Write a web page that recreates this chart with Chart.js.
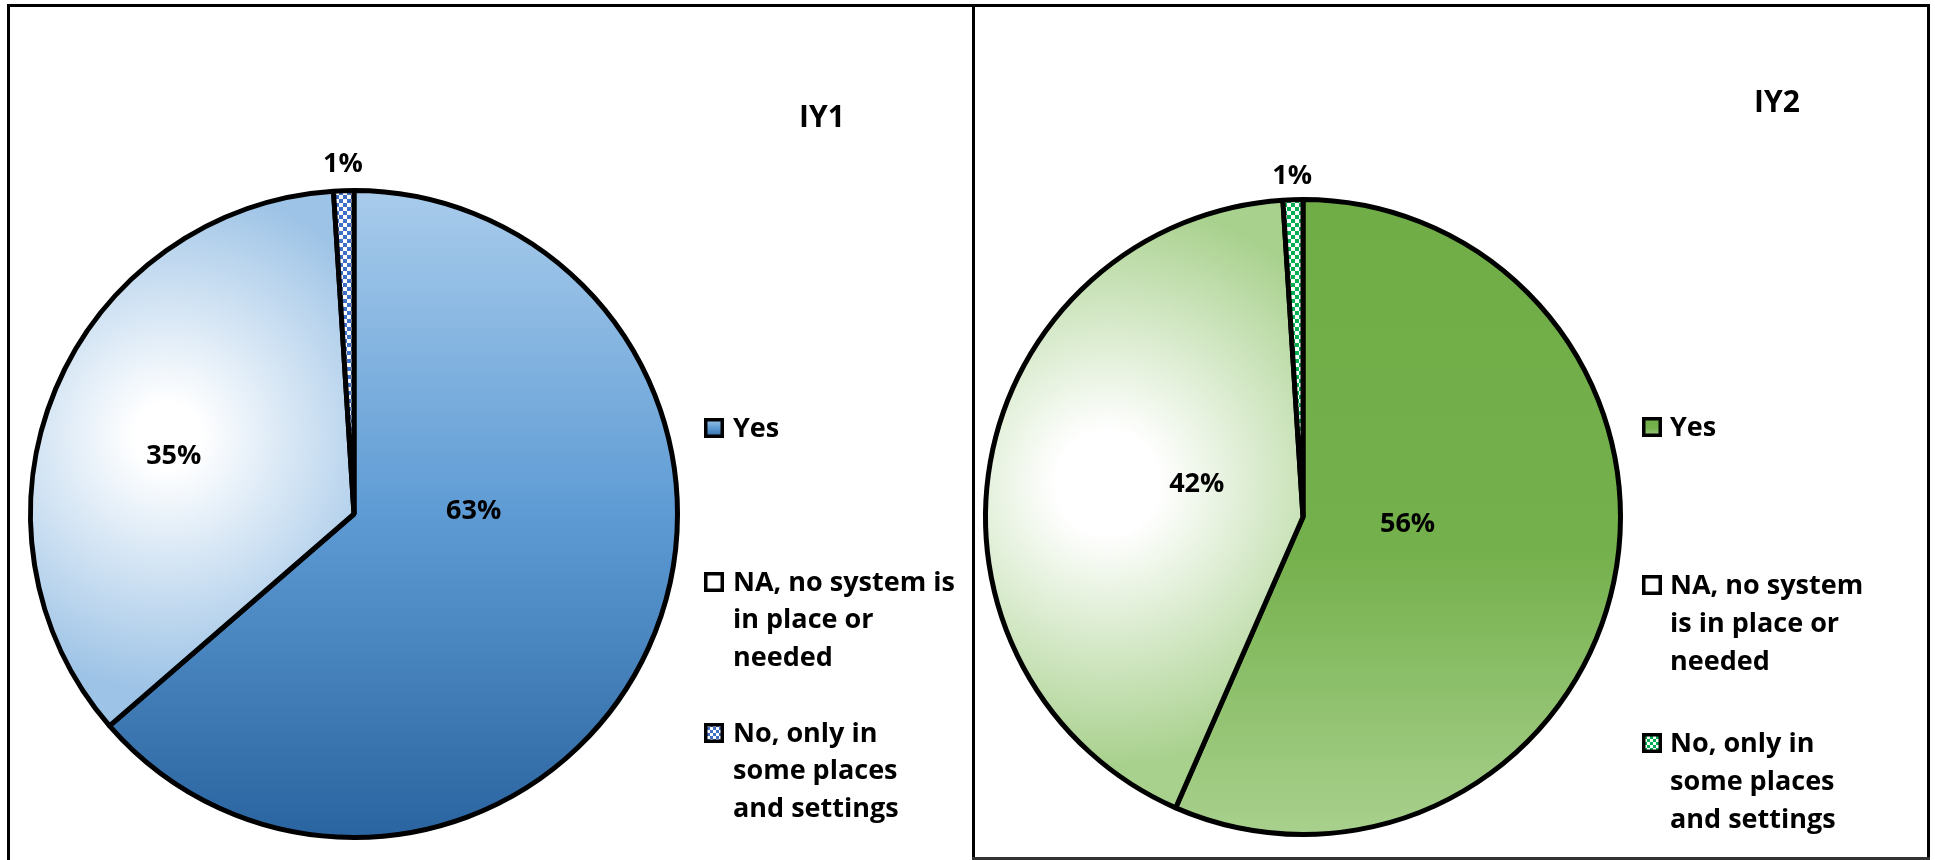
<!DOCTYPE html>
<html>
<head>
<meta charset="utf-8">
<title>IY1 / IY2</title>
<script src="https://cdn.jsdelivr.net/npm/chart.js@4.4.1/dist/chart.umd.min.js"></script>
<style>
  html, body { margin: 0; padding: 0; background: #fff; }
  #page { position: relative; width: 1935px; height: 860px; overflow: hidden; background: #fff; }
  .panel { position: absolute; }
  .rule { position: absolute; background: #000; }
</style>
</head>
<body>
<div id="page">
  <div class="panel" style="left:11px; top:7px; width:961px; height:850px;"><canvas id="chartIY1"></canvas></div>
  <div class="panel" style="left:975px; top:7px; width:952px; height:850px;"><canvas id="chartIY2"></canvas></div>
  <!-- table frame -->
  <div class="rule" style="left:7px; top:4px; width:1923px; height:3px;"></div>
  <div class="rule" style="left:7px; top:4px; width:3px; height:856px;"></div>
  <div class="rule" style="left:972px; top:4px; width:3px; height:856px;"></div>
  <div class="rule" style="left:1927px; top:4px; width:3px; height:856px;"></div>
  <div class="rule" style="left:972px; top:857px; width:958px; height:3px; background:#333;"></div>
</div>
<script>
// ---- data ----
const categories = ['Yes', 'NA, no system is in place or needed', 'No, only in some places and settings'];
const iy1Values = [63, 35, 1];
const iy2Values = [56, 42, 1];
const chartTitles = ['IY1', 'IY2'];
// legend entries as they wrap in each panel
const iy1LegendLines = [['Yes'], ['NA, no system is', 'in place or', 'needed'], ['No, only in', 'some places', 'and settings']];
const iy2LegendLines = [['Yes'], ['NA, no system', 'is in place or', 'needed'], ['No, only in', 'some places', 'and settings']];

const FONT = '"Open Sans", Lato, sans-serif';

// ---- fills ----
function checkerPattern(color, size) {
  const c = document.createElement('canvas');
  c.width = c.height = size * 2;
  const x = c.getContext('2d');
  x.fillStyle = '#ffffff';
  x.fillRect(0, 0, size * 2, size * 2);
  x.fillStyle = color;
  x.fillRect(0, 0, size, size);
  x.fillRect(size, size, size, size);
  return x.createPattern(c, 'repeat');
}

function pieGeometry(chart) {
  const a = chart.chartArea;
  return {
    cx: (a.left + a.right) / 2,
    cy: (a.top + a.bottom) / 2,
    r: Math.min(a.right - a.left, a.bottom - a.top) / 2
  };
}

// vertical gradient across the pie for the "Yes" slice
function linearGradient(chart, stops) {
  const a = chart.chartArea;
  const g = chart.ctx.createLinearGradient(0, a.top, 0, a.bottom);
  stops.forEach(s => g.addColorStop(s[0], s[1]));
  return g;
}

// white glow centred inside a slice, fading to the edge colour
function glowGradient(chart, vals, index, edge, inner, outer) {
  const { cx, cy, r } = pieGeometry(chart);
  const total = vals.reduce((s, v) => s + v, 0);
  let before = 0;
  for (let k = 0; k < index; k++) before += vals[k];
  const mid = (before + vals[index] / 2) / total * 2 * Math.PI - Math.PI / 2;
  const gx = cx + r * 0.62 * Math.cos(mid);
  const gy = cy + r * 0.62 * Math.sin(mid);
  const g = chart.ctx.createRadialGradient(gx, gy, r * inner, gx, gy, r * outer);
  g.addColorStop(0, '#ffffff');
  g.addColorStop(1, edge);
  return g;
}

function sliceFill(cfg) {
  const pattern = checkerPattern(cfg.checker, 4);
  return (c) => {
    const chart = c.chart;
    if (!chart.chartArea) return [cfg.yesStops[1][1], cfg.naEdge, pattern][c.dataIndex];
    if (c.dataIndex === 0) return linearGradient(chart, cfg.yesStops);
    if (c.dataIndex === 1) return glowGradient(chart, c.dataset.data, 1, cfg.naEdge, cfg.glow[0], cfg.glow[1]);
    return pattern;
  };
}

// ---- title, value labels and legend drawn on the chart canvas ----
const overlayPlugin = {
  id: 'overlay',
  afterDatasetsDraw(chart, args, opts) {
    const ctx = chart.ctx;
    const meta = chart.getDatasetMeta(0);
    const vals = chart.data.datasets[0].data;
    ctx.save();
    ctx.fillStyle = '#000';
    ctx.textAlign = 'center';
    ctx.textBaseline = 'middle';

    // value labels
    ctx.font = 'bold 27px ' + FONT;
    meta.data.forEach((arc, i) => {
      const p = opts.labelPlacement[i];
      const mid = (arc.startAngle + arc.endAngle) / 2 + p.shift * Math.PI / 180;
      const rr = arc.outerRadius * p.radius;
      ctx.fillText(vals[i] + '%', arc.x + rr * Math.cos(mid), arc.y + rr * Math.sin(mid));
    });

    // title
    ctx.font = 'bold 30px ' + FONT;
    ctx.fillText(opts.title, opts.titleX, opts.titleY);

    // legend
    ctx.textAlign = 'left';
    ctx.font = 'bold 27px ' + FONT;
    const lg = opts.legend;
    opts.legendLines.forEach((lines, i) => {
      const y0 = lg.rows[i];
      const s = lg.box;
      const bx = lg.boxX, by = y0 - s / 2;
      ctx.fillStyle = lg.swatch[i](ctx, bx, by, s);
      ctx.fillRect(bx, by, s, s);
      ctx.lineWidth = 3.5;
      ctx.strokeStyle = '#000';
      ctx.strokeRect(bx + 1.75, by + 1.75, s - 3.5, s - 3.5);
      ctx.fillStyle = '#000';
      lines.forEach((t, j) => ctx.fillText(t, lg.textX, y0 + j * lg.lineH + 1));
    });
    ctx.restore();
  }
};

function swatches(cfg) {
  const pattern = checkerPattern(cfg.checker, 3);
  return [
    (ctx, x, y, s) => {
      const g = ctx.createLinearGradient(0, y, 0, y + s);
      cfg.yesStops.forEach(st => g.addColorStop(st[0], st[1]));
      return g;
    },
    (ctx, x, y, s) => {
      const g = ctx.createRadialGradient(x + s / 2, y + s / 2, 1, x + s / 2, y + s / 2, s * 0.6);
      g.addColorStop(0, '#ffffff');
      g.addColorStop(0.55, '#ffffff');
      g.addColorStop(1, cfg.naEdge);
      return g;
    },
    () => pattern
  ];
}

const blueStops = [[0, '#A9CCEC'], [0.5, '#5E9BD4'], [1, '#2A64A0']];
const greenStops = [[0, '#70AD47'], [0.55, '#74B04B'], [1, '#A9D18E']];

function makePie(canvasId, values, title, legendLines, cfg) {
  return new Chart(document.getElementById(canvasId), {
    type: 'pie',
    data: {
      labels: categories,
      datasets: [{
        data: values,
        backgroundColor: sliceFill(cfg),
        borderColor: '#000',
        borderWidth: 5
      }]
    },
    options: {
      responsive: true,
      maintainAspectRatio: false,
      animation: false,
      events: [],
      layout: { padding: cfg.padding },
      plugins: {
        legend: { display: false },
        tooltip: { enabled: false },
        title: { display: false },
        overlay: {
          title: title,
          titleX: cfg.titleX,
          titleY: cfg.titleY,
          labelPlacement: cfg.labelPlacement,
          legendLines: legendLines,
          legend: Object.assign({}, cfg.legend, { swatch: swatches(cfg) })
        }
      }
    },
    plugins: [overlayPlugin]
  });
}

makePie('chartIY1', iy1Values, chartTitles[0], iy1LegendLines, {
  yesStops: blueStops,
  naEdge: '#9DC3E6',
  glow: [0.1, 0.78],
  checker: '#3F6FC6',
  padding: { left: 17, top: 181, right: 292, bottom: 17 },
  titleX: 811, titleY: 111,
  labelPlacement: [{ shift: -26, radius: 0.37 }, { shift: -5, radius: 0.585 }, { shift: 0, radius: 1.08 }],
  legend: { boxX: 693, textX: 722, box: 20, lineH: 37.5, rows: [421, 575, 726] }
});

makePie('chartIY2', iy2Values, chartTitles[1], iy2LegendLines, {
  yesStops: greenStops,
  naEdge: '#A9D18E',
  glow: [0.16, 0.88],
  checker: '#00B050',
  padding: { left: 8, top: 190, right: 304, bottom: 20 },
  titleX: 802, titleY: 96,
  labelPlacement: [{ shift: -8, radius: 0.33 }, { shift: 7, radius: 0.35 }, { shift: 0, radius: 1.075 }],
  legend: { boxX: 667, textX: 695, box: 20, lineH: 38, rows: [420, 578, 736] }
});
</script>
</body>
</html>
